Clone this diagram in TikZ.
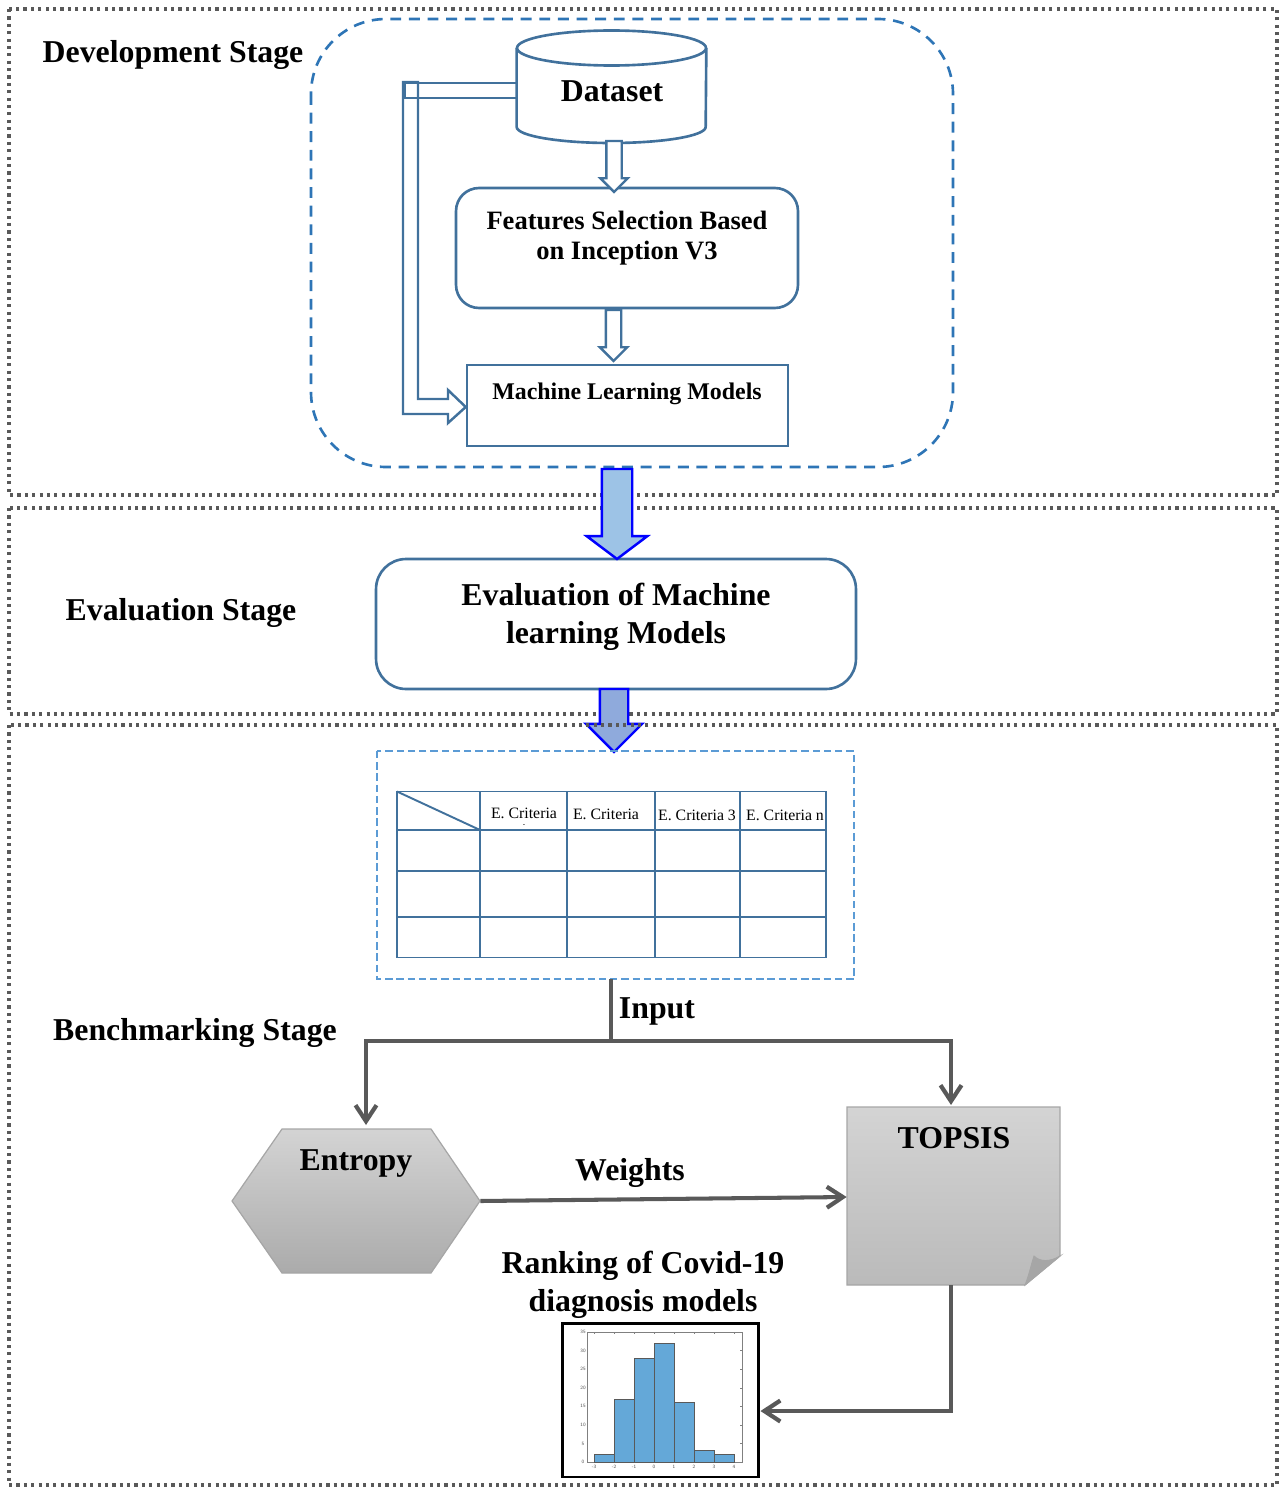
\documentclass[tikz,border=0pt]{standalone}
\usepackage{fontspec}
\setmainfont{Liberation Serif}
\usetikzlibrary{arrows.meta, shapes.arrows}

\definecolor{steel}{HTML}{41719C}
\definecolor{dashblue}{HTML}{2E75B6}
\definecolor{lightdash}{HTML}{5B9BD5}
\definecolor{framegray}{HTML}{595959}
\definecolor{barblue}{HTML}{64A8D8}
\definecolor{firstarrow}{HTML}{9DC3E6}
\definecolor{secondarrow}{HTML}{8FAADC}

\begin{document}
\begin{tikzpicture}[x=0.02cm, y=-0.02cm]
	\useasboundingbox (0,0) rectangle (1280,1487);

	% define the looks that come back, e.g. the stage frames and the block arrows
	\tikzstyle{stage frame} = [draw=framegray, line width=1.8pt, dash pattern=on 1.8pt off 2.4pt]
	\tikzstyle{big label} = [font=\bfseries\fontsize{18.1}{21.5}\selectfont, align=center, inner sep=0pt]
	\tikzstyle{step box} = [draw=steel, line width=1.5pt, align=center, inner sep=0pt]
	\tikzstyle{block arrow} = [draw=#1, single arrow, rotate=-90, anchor=tail, inner xsep=0pt, outer sep=0pt, single arrow head indent=0pt]
	\tikzstyle{thin arrow} = [block arrow=steel, line width=1.4pt, fill=white, inner ysep=0.13cm, single arrow head extend=0.12cm, single arrow tip angle=90]
	\tikzstyle{gray shape} = [draw=black!35, line width=0.7pt]
	\tikzstyle{flow} = [draw=framegray, line width=2.3pt, -{Straight Barb[length=3.2mm, width=4.2mm, line width=2.4pt]}]

	% stages
	\draw[stage frame] (9,9) rectangle (1277,495);
	\draw[stage frame] (9,508) rectangle (1277,714);
	\node[big label] (development) at (173,55) {Development Stage};
	\node[big label] (evaluation) at (181,613) {Evaluation Stage};
	\node[big label] (benchmarking) at (195,1033) {Benchmarking Stage};

	% development stage
	\draw[draw=dashblue, line width=1.5pt, dash pattern=on 6.2pt off 4.4pt, rounded corners=1.5cm] (311,19) rectangle (953,467);
	\node[big label, minimum width=3.78cm, minimum height=2.24cm] (dataset) at (611.5,87) {};
	\node[big label] (datasettext) at (612,91) {Dataset};
	\draw[draw=steel, line width=1.5pt] (dataset.west |- 0,48) -- (dataset.west |- 0,127) arc[start angle=180, end angle=0, x radius=94.5, y radius=16] -- (dataset.east |- 0,48);
	\draw[draw=steel, line width=1.5pt] (611.5,48) ellipse[x radius=94.5, y radius=17.5];
	\node[step box, rounded corners=0.46cm, minimum width=6.84cm, minimum height=2.4cm] (features) at (627,248) {};
	\node[big label, font=\bfseries\fontsize{15.1}{17.4}\selectfont] (featurestext) at (627,238) {Features Selection Based\\on Inception V3};
	\node[step box, minimum width=6.42cm, minimum height=1.62cm] (models) at (627.5,405.5) {};
	\node[big label, font=\bfseries\fontsize{13.6}{16}\selectfont] (modelstext) at (627,394) {Machine Learning Models};
	\node[thin arrow, minimum height=1.02cm] (datatofeatures) at (614,141) {};
	\node[thin arrow, minimum height=1.02cm] (featurestomodels) at (613.5,310) {};

	% the way round, from the dataset to the models
	\draw[draw=steel, line width=1.4pt] (dataset.west |- 0,83) -- (405,83) -- (405,98) -- (dataset.west |- 0,98);
	\draw[draw=steel, line width=1.4pt] (403,82) -- (418,82) -- (418,399) -- (448,399) -- (448,390) -- (models.west |- 0,407) -- (448,423) -- (448,414) -- (403,414) -- cycle;

	% evaluation stage
	\node[step box, rounded corners=0.6cm, minimum width=9.6cm, minimum height=2.6cm] (machine) at (616,624) {};
	\node[big label] (machinetext) at (616,617) {Evaluation of Machine\\learning Models};
	\node[block arrow=blue, line width=1.4pt, fill=firstarrow, inner ysep=0.28cm, single arrow head extend=0.3cm, single arrow tip angle=106, minimum height=1.8cm] (tomachine) at (617,469) {};
	\node[block arrow=blue, line width=1.4pt, fill=secondarrow, inner ysep=0.26cm, single arrow head extend=0.28cm, single arrow tip angle=90, minimum height=1.26cm] (totable) at (614,689) {};

	% benchmarking stage
	\draw[stage frame] (9,725) rectangle (1277,1485);
	\draw[draw=lightdash, line width=1.4pt, dash pattern=on 4.2pt off 2.2pt] (377,751) rectangle (854,979);
	\node[inner sep=0pt, minimum width=9.54cm, minimum height=4.56cm] (decision) at (615.5,865) {};
	\draw[draw=steel, line width=1.1pt] (397,791.5) rectangle (826,957.5);
	\foreach \cx in {480,567,655,740}
		\draw[draw=steel, line width=1.1pt] (\cx,791.5) -- (\cx,957.5);
	\foreach \cy in {830,871,917}
		\draw[draw=steel, line width=1.1pt] (397,\cy) -- (826,\cy);
	\draw[draw=steel, line width=1.1pt] (397,791.5) -- (480,830);
	\tikzstyle{criteria} = [font=\fontsize{9}{10}\selectfont, inner sep=0pt]
	\node[criteria] (crit1) at (524,813) {E. Criteria};
	\node[criteria] (crit1rest) at (524,826) {\fontsize{4}{4}\selectfont -};
	\node[criteria] (crit2) at (606,814.5) {E. Criteria};
	\node[criteria] (crit3) at (697,815) {E. Criteria 3};
	\node[criteria] (crit4) at (785,815) {E. Criteria n};

	\coordinate (split) at (611,1041);
	\coordinate (tableout) at (split |- decision.south);
	\node[inner sep=0pt, minimum width=4.26cm, minimum height=3.56cm] (topsis) at (953.5,1196) {};
	\node[inner sep=0pt, minimum width=4.96cm, minimum height=2.88cm] (entropy) at (356,1201) {};
	\draw[gray shape, top color=black!17, bottom color=black!33] (232,1201) -- (282,1129) -- (431,1129) -- (480,1201) -- (431,1273) -- (282,1273) -- cycle;
	\draw[gray shape, top color=black!17, bottom color=black!27] (847,1107) -- (1060,1107) -- (1060,1256) -- (1025,1285) -- (847,1285) -- cycle;
	\draw[fill=black!35, draw=black!35, line width=0.5pt] (1025,1285) .. controls (1029,1275) and (1031,1265) .. (1034,1256) .. controls (1040,1262) and (1050,1262) .. (1060,1256) -- cycle;
	\node[big label] (entropytext) at (356,1164) {Entropy};
	\node[big label] (topsistext) at (954,1138) {TOPSIS};
	\node[big label] (input) at (657,1011) {Input};
	\node[big label] (weights) at (630,1173) {Weights};
	\node[big label] (ranking) at (643,1285) {Ranking of Covid-19\\diagnosis models};

	\draw[draw=framegray, line width=2.3pt] (tableout) -- (split);
	\draw[flow] (split) -| (366,1125);
	\draw[flow] (split) -| (951,1105);
	\draw[flow] (entropy.east) -- (topsis.west |- 0,1197);

	% the histogram
	\node[draw=black, line width=1.7pt, inner sep=0pt, minimum width=3.94cm, minimum height=3.08cm] (histogram) at (660.5,1400) {};
	\coordinate (histin) at (histogram.east |- 0,1411);
	\draw[flow] (topsis.south -| 951,0) |- (histin);
	\draw[draw=black!50, line width=0.3pt] (587,1332) rectangle (742,1462);
	\foreach \bx/\bh in {594/2, 614/17, 634/28, 654/32, 674/16, 694/3, 714/2}
		\draw[draw=black!65, fill=barblue, line width=0.5pt] (\bx,1462) rectangle (\bx+20,1462-3.71*\bh);
	\tikzstyle{tick text} = [font=\sffamily\fontsize{2.8}{3}\selectfont, text=black!70, inner sep=0pt]
	\foreach \tx in {-3,...,4}{
		\node[tick text] (xtick\tx) at (654+20*\tx,1466.5) {\tx};
		\draw[draw=black!50, line width=0.3pt] (654+20*\tx,1332) -- (654+20*\tx,1334);
	}
	\foreach \ty in {0,5,...,35}{
		\node[tick text] (ytick\ty) at (583,1462-3.71*\ty) {\ty};
		\draw[draw=black!50, line width=0.3pt] (740,1462-3.71*\ty) -- (742,1462-3.71*\ty);
	}
\end{tikzpicture}
\end{document}
